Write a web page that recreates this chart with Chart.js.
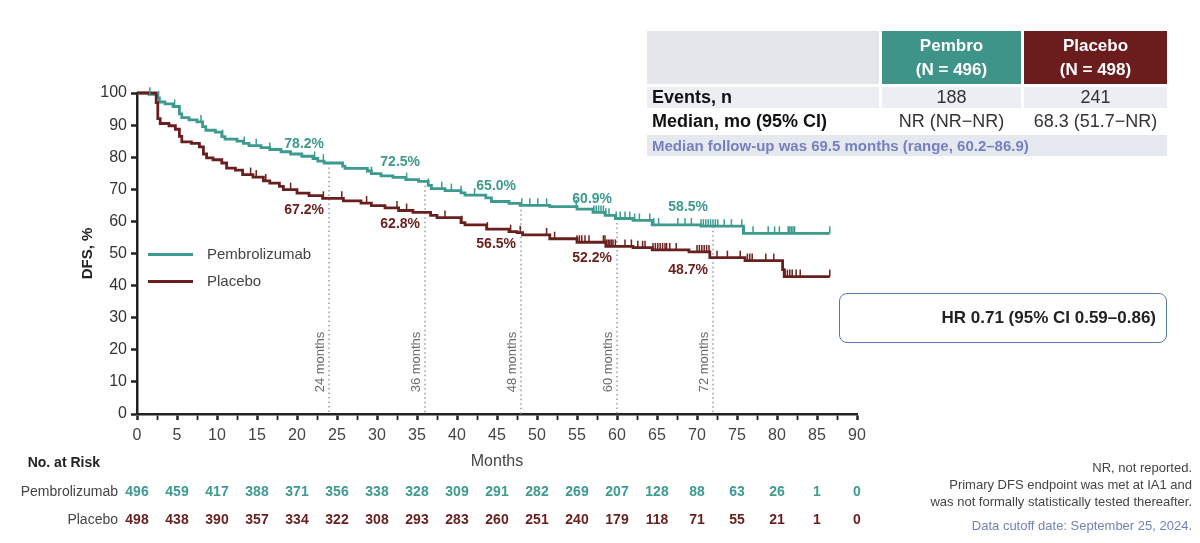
<!DOCTYPE html>
<html>
<head>
<meta charset="utf-8">
<script src="https://cdn.jsdelivr.net/npm/chart.js@4.4.1/dist/chart.umd.min.js"></script>
<style>
  body { margin: 0; background: #fff; font-family: 'Liberation Sans', Arial, sans-serif; }
  #wrap { position: relative; width: 1200px; height: 543px; overflow: hidden; }
  #km { position: absolute; left: 0; top: 0; }
  .summary { position: absolute; left: 644px; top: 28px; border-collapse: separate; border-spacing: 3px; }
  .summary td { padding: 0 5px; font-size: 18px; color: #222; white-space: nowrap; height: 21px; }
  .summary .hd { height: 53px; font-weight: bold; color: #fff; text-align: center; font-size: 17px; line-height: 24px; }
  .summary .blank { background: #e4e6ec; width: 222px; }
  .summary .pem { background: #3e9488; width: 129px; }
  .summary .pla { background: #6b1c1c; width: 133px; }
  .summary .lbl { font-weight: bold; color: #111; }
  .summary .val { text-align: center; color: #333; }
  .summary .grey td { background: #eceef3; }
  .summary .fu { background: #e6e8f0; color: #7580bc; font-weight: bold; font-size: 15px; }
  .legend { position: absolute; left: 148px; font-size: 15px; color: #444; }
  .legend span.sw { position: absolute; left: 0; top: 8px; width: 45px; height: 3px; }
  .legend span.tx { position: absolute; left: 59px; top: 0; white-space: nowrap; }
  #hr { position: absolute; left: 839px; top: 293px; height: 48px; border: 1.5px solid #5b78ad; border-radius: 8px;
        font-weight: bold; font-size: 17px; color: #222; line-height: 48px; text-align: right; padding-right: 10px; width: 316px; }
  .foot { position: absolute; right: 8px; text-align: right; font-family: 'Liberation Sans Narrow', 'Liberation Sans', Arial, sans-serif;
          font-size: 13px; color: #444; line-height: 17px; }
</style>
</head>
<body>
<div id="wrap">
  <canvas id="km" width="1200" height="543"></canvas>

  <table class="summary">
    <tr>
      <td class="hd blank"></td>
      <td class="hd pem">Pembro<br>(N = 496)</td>
      <td class="hd pla">Placebo<br>(N = 498)</td>
    </tr>
    <tr class="grey">
      <td class="lbl">Events, n</td>
      <td class="val">188</td>
      <td class="val">241</td>
    </tr>
    <tr>
      <td class="lbl">Median, mo (95% CI)</td>
      <td class="val">NR (NR&minus;NR)</td>
      <td class="val">68.3 (51.7&minus;NR)</td>
    </tr>
    <tr>
      <td class="fu" colspan="3">Median follow-up was 69.5 months (range, 60.2&ndash;86.9)</td>
    </tr>
  </table>

  <div class="legend" style="top:245px"><span class="sw" style="background:#3d9a8f"></span><span class="tx">Pembrolizumab</span></div>
  <div class="legend" style="top:272px"><span class="sw" style="background:#6a1f1f"></span><span class="tx">Placebo</span></div>

  <div id="hr">HR 0.71 (95% CI 0.59&ndash;0.86)</div>

  <div class="foot" style="top:459px">NR, not reported.<br>Primary DFS endpoint was met at IA1 and<br>was not formally statistically tested thereafter.</div>
  <div class="foot" style="top:517px; color:#7580b8">Data cutoff date: September 25, 2024.</div>
</div>

<script>
// ---- data ----
const pembroMonths = [0, 1.5, 2.5, 2.8, 3.5, 4.5, 5.3, 5.6, 6.5, 7.5, 8.2, 8.6, 9.8, 10.6, 11.0, 12.5, 13.3, 14.0, 15.5, 16.6,
  18.0, 19.2, 20.6, 22.0, 22.6, 23.4, 25.7, 26.0, 28.8, 29.3, 30.5, 32.0, 33.6, 35.2, 36.4, 36.8, 38.5, 40.5, 41.0, 43.6,
  44.3, 46.5, 47.9, 51.6, 55.0, 57.0, 58.5, 59.8, 62.0, 64.4, 70.5, 75.8, 86.6];
const pembroDFS = [100, 99.6, 98.5, 97.2, 96.6, 95.8, 93.5, 92.3, 91.6, 91.0, 89.5, 88.4, 87.8, 86.4, 85.6, 85.0, 84.3, 83.6, 83.0, 82.4,
  81.7, 81.0, 80.3, 79.6, 78.8, 78.2, 77.2, 76.5, 75.7, 74.9, 74.2, 73.7, 73.0, 72.5, 71.2, 70.2, 69.6, 68.9, 68.2, 67.3,
  66.2, 65.6, 65.0, 64.6, 63.8, 62.8, 61.9, 60.9, 60.3, 58.9, 58.5, 56.3, 56.3];

const placeboMonths = [0, 2.4, 2.6, 2.9, 4.0, 4.8, 5.3, 5.6, 6.8, 7.8, 8.3, 8.7, 9.5, 10.6, 11.2, 12.3, 13.2, 14.5, 15.8, 16.6,
  17.8, 18.3, 20.0, 21.5, 23.2, 25.8, 28.0, 29.3, 31.0, 32.7, 34.5, 36.7, 37.5, 40.5, 41.0, 43.7, 46.5, 47.5, 48.2, 51.6,
  55.0, 58.6, 62.0, 64.4, 69.0, 71.6, 76.0, 80.7, 80.9, 86.6];
const placeboDFS = [100, 97.0, 92.0, 90.5, 89.8, 88.7, 86.5, 84.8, 84.3, 83.2, 81.0, 79.8, 79.2, 78.2, 76.6, 76.0, 74.6, 73.8, 72.6, 71.9,
  70.9, 69.9, 68.8, 68.0, 67.2, 66.4, 65.7, 64.9, 64.2, 63.4, 62.8, 61.9, 61.2, 59.6, 58.9, 57.6, 56.8, 56.5, 55.8, 54.6,
  53.5, 52.2, 51.8, 51.1, 50.5, 48.7, 47.8, 45.0, 42.8, 42.8];

const pembroCensor = [1.6, 2.7, 4.7, 5.3, 8.0, 10.7, 13.4, 14.9, 16.6, 22.2, 23.3, 29.3, 33.7, 36.4, 38.1, 39.3, 40.5, 42.2,
  48.1, 49.1, 50.1, 51.2, 54.9, 57.1, 57.4, 57.7, 58.0, 58.3, 58.6, 59.0, 59.9, 60.4, 61.0, 61.6, 62.2, 62.8, 64.1, 64.6,
  65.2, 67.6, 68.5, 69.3, 70.5, 70.8, 71.1, 71.4, 71.7, 72.0, 72.3, 72.6, 73.4, 74.3, 75.6, 75.9, 77.0, 78.9, 79.7, 80.3,
  81.4, 81.6, 81.8, 82.0, 82.2, 86.6];
const placeboCensor = [14.2, 14.9, 16.1, 19.2, 23.3, 25.6, 28.7, 32.5, 33.7, 38.5, 40.6, 43.8, 46.7, 47.9, 51.2, 52.2,
  55.0, 55.3, 55.6, 56.0, 56.5, 58.3, 58.5, 58.7, 58.9, 59.1, 59.3, 59.5, 59.8, 61.0, 61.8, 62.6, 63.2, 63.5, 64.5, 64.8,
  65.1, 65.4, 65.7, 66.0, 66.2, 66.6, 67.4, 70.0, 70.3, 70.6, 70.9, 71.2, 71.5, 72.5, 73.8, 75.4, 76.3, 76.6, 76.9, 78.6,
  79.6, 81.0, 81.3, 81.6, 81.9, 82.4, 82.9, 86.6];

const landmarkMonths = [24, 36, 48, 60, 72];
const pembroLandmark = [78.2, 72.5, 65.0, 60.9, 58.5];
const placeboLandmark = [67.2, 62.8, 56.5, 52.2, 48.7];

const riskMonths = [0, 5, 10, 15, 20, 25, 30, 35, 40, 45, 50, 55, 60, 65, 70, 75, 80, 85, 90];
const pembroRisk = [496, 459, 417, 388, 371, 356, 338, 328, 309, 291, 282, 269, 207, 128, 88, 63, 26, 1, 0];
const placeboRisk = [498, 438, 390, 357, 334, 322, 308, 293, 283, 260, 251, 240, 179, 118, 71, 55, 21, 1, 0];

const TEAL = '#3d9a8f';
const MAROON = '#6a1f1f';
const FONT = "'Liberation Sans', Arial, sans-serif";

function toPoints(xs, ys) { return xs.map((x, i) => ({ x: x, y: ys[i] })); }

function stepValue(xs, ys, t) {
  let v = ys[0];
  for (let i = 0; i < xs.length; i++) { if (xs[i] <= t) v = ys[i]; }
  return v;
}

// censor ticks, landmark lines and labels, at-risk table
const kmExtras = {
  id: 'kmExtras',
  beforeDatasetsDraw(chart) {
    const { ctx, chartArea, scales: { x, y } } = chart;
    ctx.save();
    // dotted landmark lines
    ctx.strokeStyle = '#9a9a9a';
    ctx.lineWidth = 1.5;
    ctx.setLineDash([1.5, 3]);
    landmarkMonths.forEach((m, i) => {
      const px = x.getPixelForValue(m);
      ctx.beginPath();
      ctx.moveTo(px, y.getPixelForValue(pembroLandmark[i]));
      ctx.lineTo(px, chartArea.bottom);
      ctx.stroke();
    });
    ctx.setLineDash([]);
    ctx.fillStyle = '#6b6b6b';
    ctx.font = '13px ' + FONT;
    ctx.textAlign = 'center';
    ctx.textBaseline = 'middle';
    landmarkMonths.forEach(m => {
      ctx.save();
      ctx.translate(x.getPixelForValue(m) - 9, 362);
      ctx.rotate(-Math.PI / 2);
      ctx.fillText(m + ' months', 0, 0);
      ctx.restore();
    });
    ctx.restore();
  },
  afterDatasetsDraw(chart) {
    const { ctx, chartArea, scales: { x, y } } = chart;
    ctx.save();
    // censor marks
    ctx.lineWidth = 1.5;
    [[pembroCensor, pembroMonths, pembroDFS, TEAL], [placeboCensor, placeboMonths, placeboDFS, MAROON]].forEach(([cs, xs, ys, col]) => {
      ctx.strokeStyle = col;
      cs.forEach(t => {
        const px = x.getPixelForValue(t);
        const py = y.getPixelForValue(stepValue(xs, ys, t));
        ctx.beginPath();
        ctx.moveTo(px, py);
        ctx.lineTo(px, py - 7);
        ctx.stroke();
      });
    });

    // landmark percentages
    ctx.font = 'bold 14px ' + FONT;
    ctx.textAlign = 'right';
    ctx.textBaseline = 'middle';
    landmarkMonths.forEach((m, i) => {
      const px = x.getPixelForValue(m) - 5;
      ctx.fillStyle = TEAL;
      ctx.fillText(pembroLandmark[i].toFixed(1) + '%', px, y.getPixelForValue(pembroLandmark[i]) - 19);
      ctx.fillStyle = MAROON;
      ctx.fillText(placeboLandmark[i].toFixed(1) + '%', px, y.getPixelForValue(placeboLandmark[i]) + 12);
    });

    // axis titles
    ctx.fillStyle = '#222';
    ctx.font = 'bold 15px ' + FONT;
    ctx.textAlign = 'center';
    ctx.save();
    ctx.translate(88, (chartArea.top + chartArea.bottom) / 2);
    ctx.rotate(-Math.PI / 2);
    ctx.fillText('DFS, %', 0, 0);
    ctx.restore();
    ctx.fillStyle = '#444';
    ctx.font = '16px ' + FONT;
    ctx.fillText('Months', x.getPixelForValue(45), 462);

    // number at risk
    ctx.fillStyle = '#222';
    ctx.font = 'bold 14px ' + FONT;
    ctx.textAlign = 'right';
    ctx.fillText('No. at Risk', 100, 463);
    ctx.font = '14px ' + FONT;
    ctx.fillStyle = '#444';
    ctx.fillText('Pembrolizumab', 118, 492);
    ctx.fillText('Placebo', 118, 520);
    ctx.font = 'bold 14px ' + FONT;
    ctx.textAlign = 'center';
    riskMonths.forEach((m, i) => {
      const px = x.getPixelForValue(m);
      ctx.fillStyle = TEAL;
      ctx.fillText(pembroRisk[i], px, 492);
      ctx.fillStyle = MAROON;
      ctx.fillText(placeboRisk[i], px, 520);
    });
    ctx.restore();
  }
};

new Chart(document.getElementById('km'), {
  type: 'line',
  data: {
    datasets: [
      { label: 'Placebo', data: toPoints(placeboMonths, placeboDFS), borderColor: MAROON, borderWidth: 2.8,
        stepped: 'before', pointRadius: 0, fill: false, clip: 6 },
      { label: 'Pembrolizumab', data: toPoints(pembroMonths, pembroDFS), borderColor: TEAL, borderWidth: 2.8,
        stepped: 'before', pointRadius: 0, fill: false, clip: 6 }
    ]
  },
  options: {
    responsive: false,
    animation: false,
    layout: { padding: { left: 0, top: 93, right: 343, bottom: 99 } },
    plugins: { legend: { display: false }, tooltip: { enabled: false } },
    scales: {
      x: {
        type: 'linear', min: 0, max: 90,
        afterFit: s => { s.height = 30; },
        afterBuildTicks: s => { s.ticks = []; for (let v = 0; v <= 90; v += 2.5) s.ticks.push({ value: v }); },
        ticks: {
          autoSkip: false, maxRotation: 0, padding: 6,
          color: '#444', font: { family: FONT, size: 16 },
          callback: v => (v % 5 === 0 ? v : '')
        },
        grid: {
          drawOnChartArea: false, drawTicks: true, tickLength: 6,
          tickColor: '#222', tickWidth: c => (c.tick && c.tick.value % 5 === 0 ? 2.5 : 1.8)
        },
        border: { color: '#222', width: 2.5 }
      },
      y: {
        min: 0, max: 100,
        afterFit: s => { s.width = 137; },
        ticks: { stepSize: 10, padding: 4, color: '#333', font: { family: FONT, size: 16 } },
        grid: { drawOnChartArea: false, drawTicks: true, tickLength: 6, tickColor: '#222', tickWidth: 2.5 },
        border: { color: '#222', width: 2.5 }
      }
    }
  },
  plugins: [kmExtras]
});
</script>
</body>
</html>
